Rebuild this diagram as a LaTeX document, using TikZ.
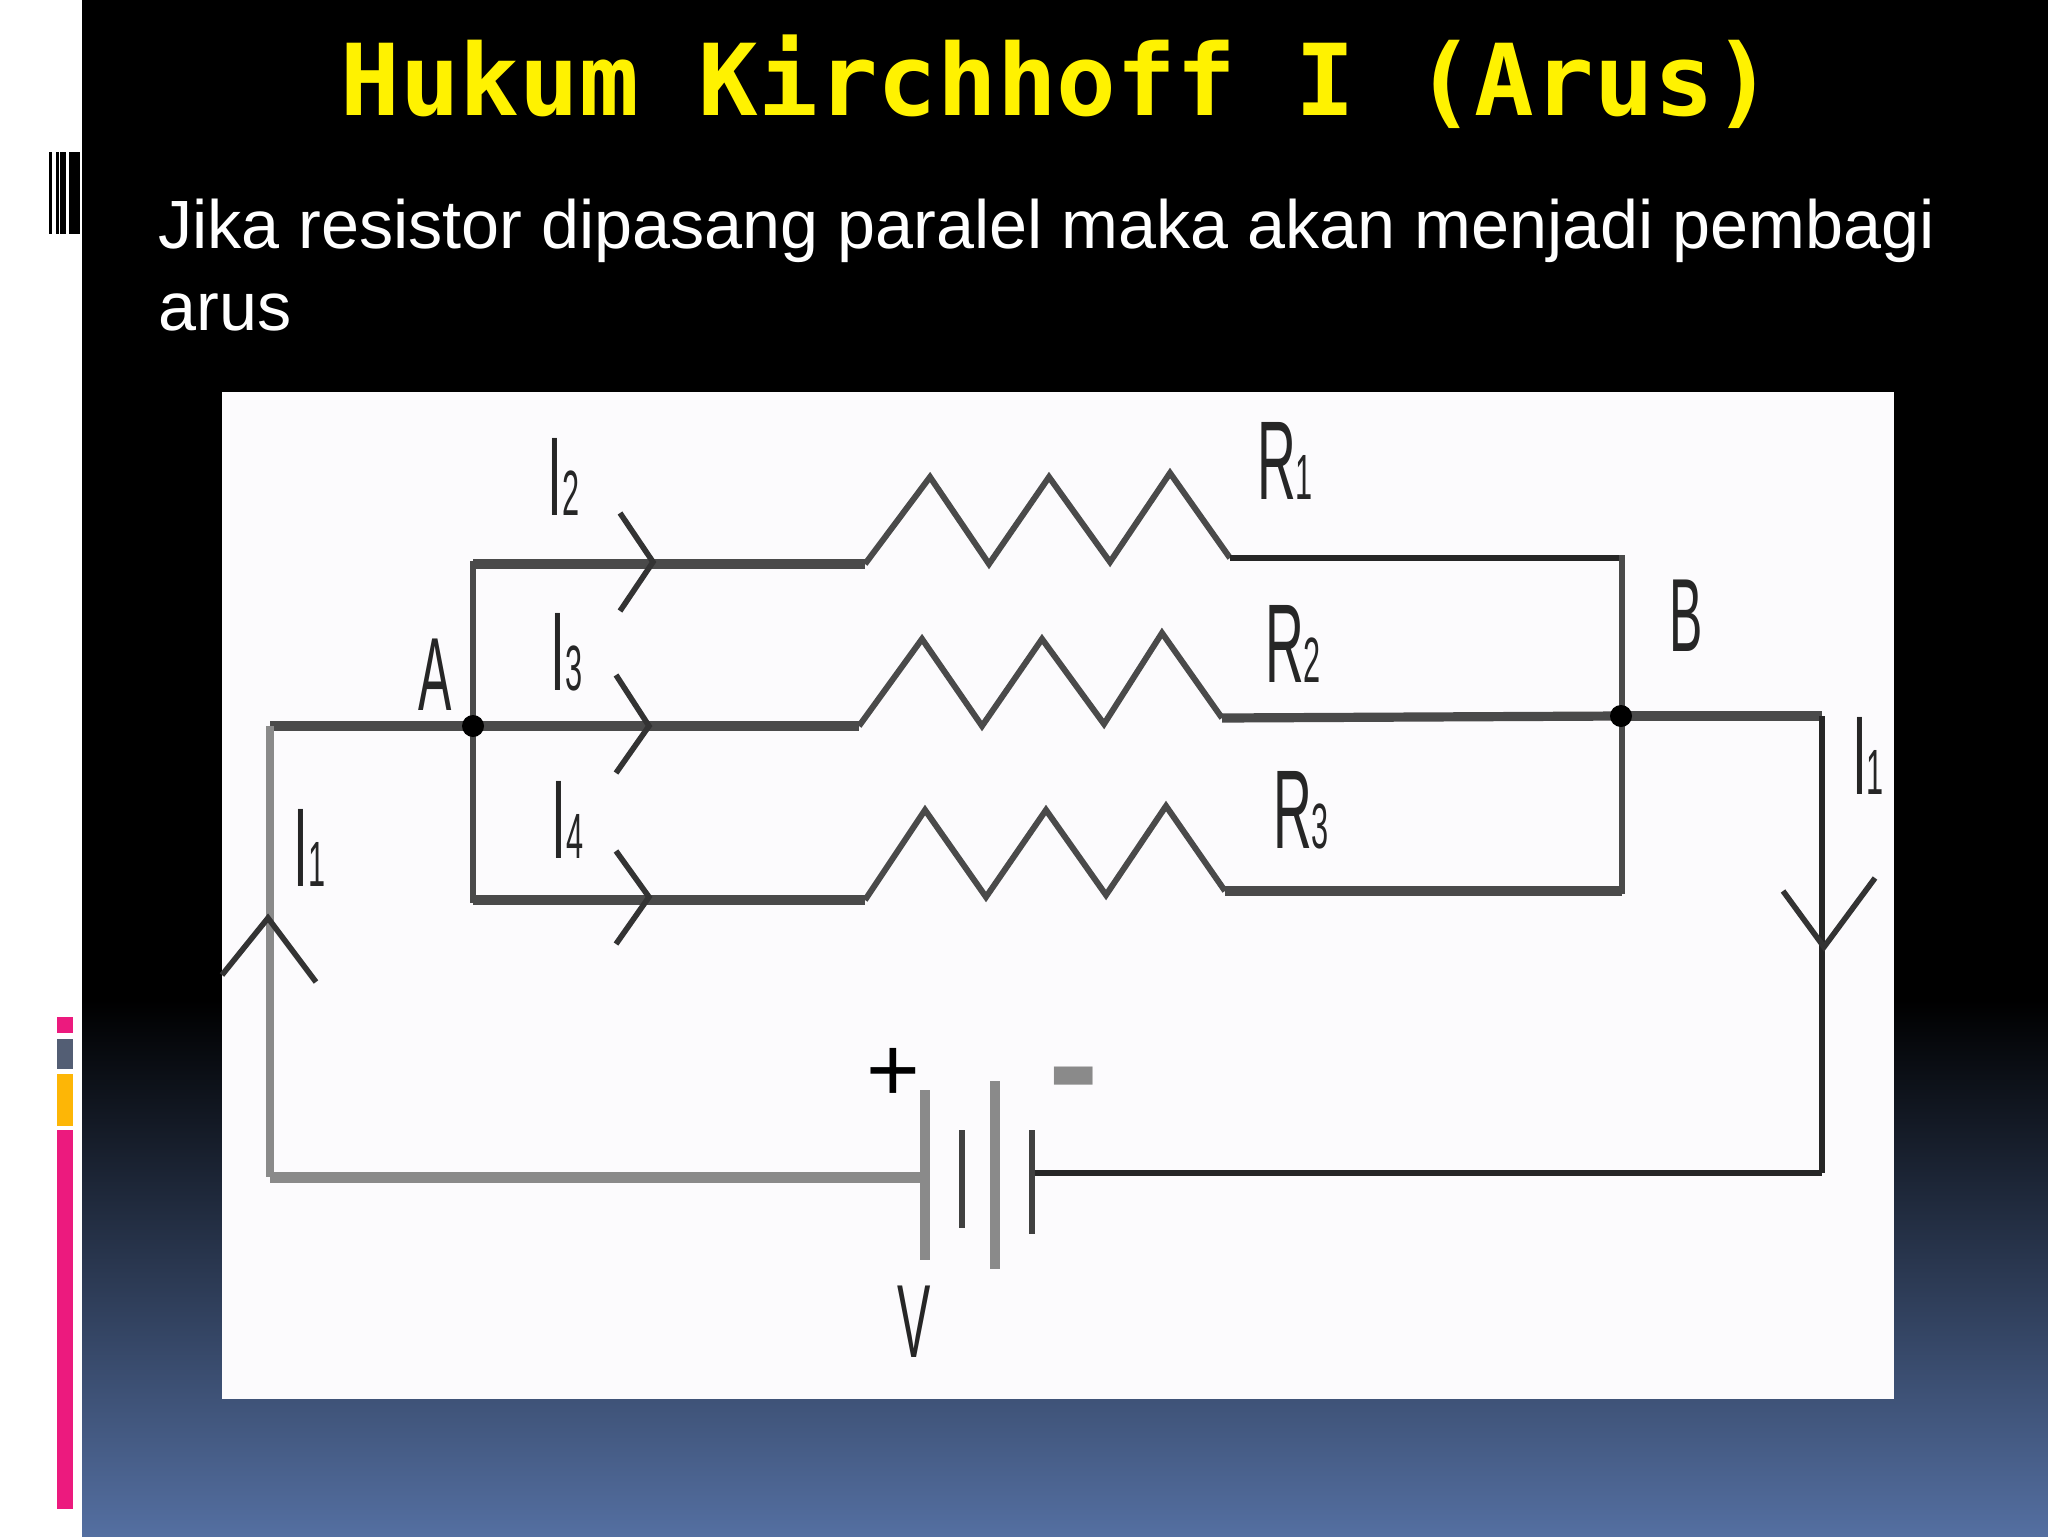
\documentclass[tikz,border=0pt]{standalone}
\usepackage{fontspec}
\setmainfont{Liberation Sans}
\newfontfamily\titlefont{DejaVu Sans Mono}
\usetikzlibrary{positioning}
\definecolor{wirecol}{HTML}{4A4A4A}
\definecolor{palegray}{HTML}{8A8A8A}
\definecolor{sheetcol}{HTML}{FCFBFD}
\definecolor{slideblue}{HTML}{546FA1}
\definecolor{barpink}{HTML}{EC1A7E}
\definecolor{barslate}{HTML}{535E74}
\definecolor{baramber}{HTML}{FDB606}
\newcommand{\thinlabel}[1]{\scalebox{.48}[1]{#1}}
\newcommand{\sublabel}[2]{\scalebox{.48}[1]{#1{\fontsize{32}{32}\selectfont #2}}}
\tikzset{
  wire/.style={draw=wirecol,line width=4.6pt},
  zigzag/.style={draw=wirecol,line width=3pt,line join=miter},
  rail/.style={draw=wirecol,line width=3.2pt,line cap=rect},
  thinwire/.style={draw=black!85,line width=2.8pt},
  palewire/.style={draw=palegray,line width=5.5pt},
  tip/.style={draw=black!80,line width=2.8pt},
  plate/.style={draw=palegray,line width=5pt},
  darkplate/.style={draw=black!75,line width=3pt},
  dot/.style={circle,fill=black,inner sep=0pt,minimum size=11pt},
  lab/.style={text=black!85,font=\fontsize{56}{56}\selectfont,inner sep=0pt},
  letterlab/.style={lab,font=\fontsize{52}{52}\selectfont}
}
\begin{document}
\begin{tikzpicture}[x=0.5pt,y=-0.5pt]
\useasboundingbox (0,0) rectangle (2048,1536);

% slide
\fill[white] (0,0) rectangle (82,1536);
\fill[black] (82,0) rectangle (2048,1000);
\shade[top color=black,bottom color=slideblue] (82,1000) rectangle (2048,1536);
\foreach \xa/\xb in {49/52,56/58.5,60/66,69/80}
  \fill[black] (\xa,152) rectangle (\xb,234);
\fill[barpink] (57,1017) rectangle (73,1033);
\fill[barslate] (57,1039) rectangle (73,1069);
\fill[baramber] (57,1074) rectangle (73,1126);
\fill[barpink] (57,1130) rectangle (73,1509);

\node[text=yellow,font=\titlefont\bfseries\fontsize{49.6}{50}\selectfont,inner sep=0pt] (title) at (1057,82) {Hukum Kirchhoff I (Arus)};
\node[text=white,font=\fontsize{34.15}{41}\selectfont,anchor=base west,inner sep=0pt] (body) at (158,248) {Jika resistor dipasang paralel maka akan menjadi pembagi};
\node[text=white,font=\fontsize{34.15}{41}\selectfont,anchor=base west,inner sep=0pt] (bodynext) at (158,330) {arus};

\fill[sheetcol] (222,392) rectangle (1894,1399);

% corners
\coordinate (a) at (473,726);
\coordinate (b) at (1621,716);
\coordinate (lefttop) at (270,726);
\coordinate (leftbot) at (270,1177);
\coordinate (righttop) at (1822,716);
\coordinate (rightbot) at (1822,1173);
\coordinate (atop) at (473,564);
\coordinate (abot) at (473,900);
\coordinate (btop) at (1622,558);
\coordinate (bbot) at (1622,891);

% resistors
\coordinate (r1in) at (865,564);
\coordinate (r1out) at (1230,558);
\coordinate (r2in) at (859,726);
\coordinate (r2out) at (1222,718);
\coordinate (r3in) at (865,900);
\coordinate (r3out) at (1225,891);
\draw[zigzag] (r1in) -- (930,477) -- (989,564) -- (1049,477) -- (1110,562) -- (1170,473) -- (r1out);
\draw[zigzag] (r2in) -- (922,639) -- (982,726) -- (1042,639) -- (1104,724) -- (1162,633) -- (r2out);
\draw[zigzag] (r3in) -- (925,810) -- (986,897) -- (1046,810) -- (1106,895) -- (1166,806) -- (r3out);
\draw[wire] (atop) -- (r1in);
\draw[thinwire] (r1out) -- (btop);
\draw[wire] (a) -- (r2in);
\draw[wire] (r2out) -- (b);
\draw[wire] (abot) -- (r3in);
\draw[wire] (r3out) -- (bbot);
\draw[wire] (lefttop) -- (a);
\draw[wire] (b) -- (righttop);
\draw[rail] (atop) -- (abot);
\draw[rail] (btop) -- (bbot);
\draw[palewire,line width=4pt] (lefttop) -- (leftbot);
\draw[thinwire] (righttop) -- (rightbot);

% battery
\coordinate (cellp) at (925,1177);
\coordinate (celln) at (1032,1173);
\draw[palewire] (leftbot) -- (cellp);
\draw[thinwire] (celln) -- (rightbot);
\draw[plate] (925,1090) -- (925,1260);
\draw[darkplate] (962,1130) -- (962,1228);
\draw[plate] (995,1081) -- (995,1269);
\draw[darkplate] (1032,1130) -- (1032,1234);

\node[dot] (nodea) at (a) {};
\node[dot] (nodeb) at (b) {};

% current arrows
\draw[tip] (620,513) -- (653,562) -- (620,611);
\draw[tip] (616,675) -- (649,726) -- (616,773);
\draw[tip] (616,851) -- (649,897) -- (616,944);
\draw[tip] (222,975) -- (268,918) -- (316,982);
\draw[tip] (1783,891) -- (1824,947) -- (1875,878);

% labels
\node[letterlab] (la) at (435,675) {\thinlabel{A}};
\node[letterlab] (lb) at (1686,616) {\thinlabel{B}};
\node[lab] (li2) at (564,477) {\sublabel{I}{2}};
\node[lab] (li3) at (567,652) {\sublabel{I}{3}};
\node[lab] (li4) at (568,820) {\sublabel{I}{4}};
\node[lab] (li1l) at (310,848) {\sublabel{I}{1}};
\node[lab] (li1r) at (1868,756) {\sublabel{I}{1}};
\node[lab] (lr1) at (1285,461) {\sublabel{R}{1}};
\node[lab] (lr2) at (1293,644) {\sublabel{R}{2}};
\node[lab] (lr3) at (1301,810) {\sublabel{R}{3}};
\node[letterlab] (lv) at (914,1322) {\thinlabel{V}};
\node[lab,text=black,font=\fontsize{46}{46}\selectfont] (lplus) at (893,1075) {+};
\node[lab,text=palegray,font=\bfseries\fontsize{76}{76}\selectfont] (lminus) at (1074,1091) {-};
\end{tikzpicture}
\end{document}
